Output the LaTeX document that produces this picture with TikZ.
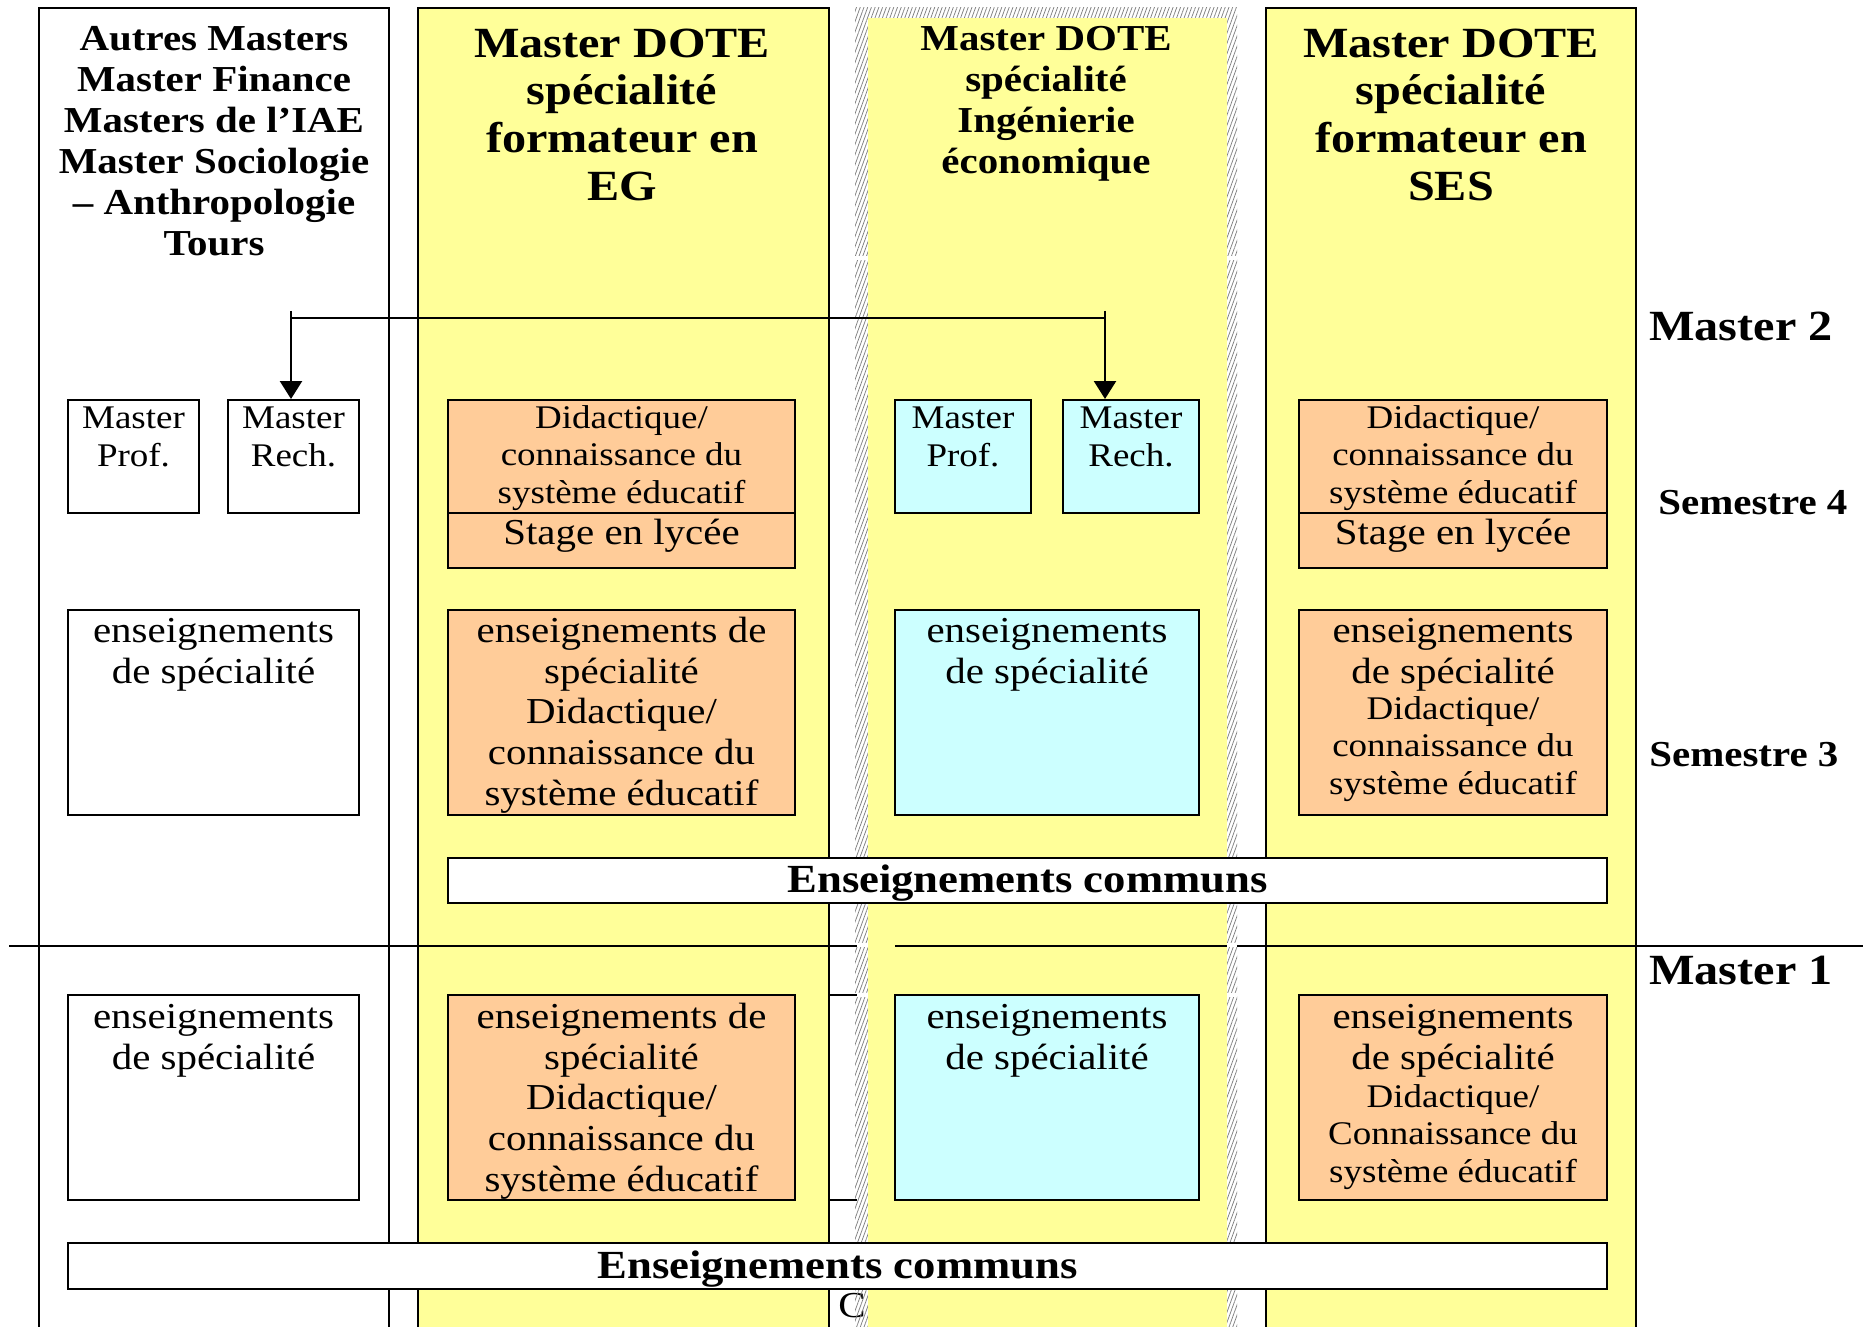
\documentclass[tikz,border=0pt]{standalone}
\usepackage{fontspec}
\setmainfont{Liberation Serif}[FakeStretch=1.12]
\usetikzlibrary{fit,arrows.meta,patterns.meta}
\definecolor{doteyellow}{HTML}{FFFF99}
\definecolor{doteorange}{HTML}{FFCC99}
\definecolor{dotecyan}{HTML}{CCFFFF}
\tikzset{rule/.style={black,line width=0.04cm},
  cell/.style={rule,draw,inner sep=0pt,fit={#1}},
  ocell/.style={cell={#1},fill=doteorange},
  ccell/.style={cell={#1},fill=dotecyan},
  wcell/.style={cell={#1},fill=white},
  bodytxt/.style={anchor=north,align=center,inner sep=0pt,font=\fontsize{20.8}{23.2}\selectfont},
  smalltxt/.style={bodytxt,font=\fontsize{18.8}{21.3}\selectfont},
  titletxt/.style={anchor=north,align=center,inner sep=0pt,font=\bfseries\fontsize{20.8}{23.3}\selectfont},
  bigtitle/.style={titletxt,font=\bfseries\fontsize{24.5}{27.1}\selectfont},
  commtxt/.style={titletxt,anchor=base,font=\bfseries\fontsize{22.7}{25}\selectfont},
  link/.style={black,line width=0.05cm,-{Triangle[width=0.44cm,length=0.36cm]}}}

\begin{document}
\begin{tikzpicture}[x=0.02cm,y=-0.02cm]
   \useasboundingbox (0,0) rectangle (1863,1327);
   \clip (0,0) rectangle (1863,1327);
   \fill[white] (0,0) rectangle (1863,1327);
   \draw[rule] (39,1340) -- (39,8) -- (389,8) -- (389,1340);
   \filldraw[rule,fill=doteyellow] (418,1340) -- (418,8) -- (829,8) -- (829,1340);
   \filldraw[rule,fill=doteyellow] (1266,1340) -- (1266,8) -- (1636,8) -- (1636,1340);
   \node[bodytxt,anchor=base west] (cut) at (838,1317) {C};
   \pattern[pattern={Lines[angle=70,distance=0.07cm,line width=0.015cm]},pattern color=gray] (855,8) rectangle (1237,1340);
   \foreach \gy in {258,945,995}
      \fill[white] (855,\gy-2) rectangle (1237,\gy+2);
   \fill[doteyellow] (868,18) rectangle (1227,1340);
   \draw[rule] (9,946) -- (857,946);
   \draw[rule] (895,946) -- (1227,946);
   \draw[rule] (1237,946) -- (1863,946);
   \draw[rule] (829,995) -- (857,995);
   \draw[rule] (829,1200) -- (857,1200);

   \node[titletxt] (autresT) at (214,21.4) {\strut Autres Masters\\Master Finance\\Masters de l’IAE\\Master Sociologie\\– Anthropologie\\Tours};
   \node[bigtitle] (egT) at (622,23.6) {\strut Master DOTE\\spécialité\\formateur en\\EG};
   \node[titletxt] (ieT) at (1046,21.4) {\strut Master DOTE\\spécialité\\Ingénierie\\économique};
   \node[bigtitle] (sesT) at (1451,23.6) {\strut Master DOTE\\spécialité\\formateur en\\SES};

   \node[wcell={(68,400) (199,513)}] (lProf) {};
   \node[wcell={(228,400) (359,513)}] (lRech) {};
   \node[wcell={(68,610) (359,815)}] (lS3) {};
   \node[wcell={(68,995) (359,1200)}] (lM1) {};
   \node[ocell={(448,400) (795,568)}] (egS4) {};
   \draw[rule] (egS4.west |- 0,513) -- (egS4.east |- 0,513);
   \node[ocell={(448,610) (795,815)}] (egS3) {};
   \node[ocell={(448,995) (795,1200)}] (egM1) {};
   \node[ccell={(895,400) (1031,513)}] (ieProf) {};
   \node[ccell={(1063,400) (1199,513)}] (ieRech) {};
   \node[ccell={(895,610) (1199,815)}] (ieS3) {};
   \node[ccell={(895,995) (1199,1200)}] (ieM1) {};
   \node[ocell={(1299,400) (1607,568)}] (sesS4) {};
   \draw[rule] (sesS4.west |- 0,513) -- (sesS4.east |- 0,513);
   \node[ocell={(1299,610) (1607,815)}] (sesS3) {};
   \node[ocell={(1299,995) (1607,1200)}] (sesM1) {};
   \node[wcell={(448,858) (1607,903)}] (communsA) {};
   \node[wcell={(68,1243) (1607,1289)}] (communsB) {};

   \node[smalltxt] (lProfT) at (lProf.north |- 0,402.4) {\strut Master\\Prof.};
   \node[smalltxt] (lRechT) at (lRech.north |- 0,402.4) {\strut Master\\Rech.};
   \node[bodytxt] (lS3T) at (lS3.north |- 0,613.4) {\strut enseignements\\de spécialité};
   \node[bodytxt] (lM1T) at (lM1.north |- 0,999.4) {\strut enseignements\\de spécialité};
   \node[smalltxt] (egS4T) at (egS4.north |- 0,401.8) {\strut Didactique/\\connaissance du\\système éducatif};
   \node[bodytxt] (egStageT) at (egS4.north |- 0,515.4) {\strut Stage en lycée};
   \node[bodytxt] (egS3T) at (egS3.north |- 0,613.4) {\strut enseignements de\\spécialité\\Didactique/\\connaissance du\\système éducatif};
   \node[bodytxt] (egM1T) at (egM1.north |- 0,999.4) {\strut enseignements de\\spécialité\\Didactique/\\connaissance du\\système éducatif};
   \node[smalltxt] (ieProfT) at (ieProf.north |- 0,402.4) {\strut Master\\Prof.};
   \node[smalltxt] (ieRechT) at (ieRech.north |- 0,402.4) {\strut Master\\Rech.};
   \node[bodytxt] (ieS3T) at (ieS3.north |- 0,613.4) {\strut enseignements\\de spécialité};
   \node[bodytxt] (ieM1T) at (ieM1.north |- 0,999.4) {\strut enseignements\\de spécialité};
   \node[smalltxt] (sesS4T) at (sesS4.north |- 0,401.8) {\strut Didactique/\\connaissance du\\système éducatif};
   \node[bodytxt] (sesStageT) at (sesS4.north |- 0,515.4) {\strut Stage en lycée};
   \node[bodytxt] (sesS3T) at (sesS3.north |- 0,613.4) {\strut enseignements\\de spécialité};
   \node[smalltxt] (sesS3U) at (sesS3.north |- 0,692.8) {\strut Didactique/\\connaissance du\\système éducatif};
   \node[bodytxt] (sesM1T) at (sesM1.north |- 0,999.4) {\strut enseignements\\de spécialité};
   \node[smalltxt] (sesM1U) at (sesM1.north |- 0,1080.8) {\strut Didactique/\\Connaissance du\\système éducatif};
   \node[commtxt] (communsAT) at (communsA.center |- 0,892) {Enseignements communs};
   \node[commtxt] (communsBT) at (communsB.center |- 0,1278) {Enseignements communs};

   \coordinate (feedL) at (291,311);
   \coordinate (feedR) at (1105,311);
   \draw[link] (feedL) -- (feedL |- lRech.north);
   \draw[link] (feedR) -- (feedR |- ieRech.north);
   \draw[black,line width=0.05cm] (feedL |- 0,318) -- (feedR |- 0,318);

   \node[bigtitle,anchor=base west] (m2) at (1649,341) {Master 2};
   \node[titletxt,anchor=base west] (s4) at (1658,515) {Semestre 4};
   \node[titletxt,anchor=base west] (s3) at (1649,766) {Semestre 3};
   \node[bigtitle,anchor=base west] (m1) at (1649,984) {Master 1};
\end{tikzpicture}
\end{document}
